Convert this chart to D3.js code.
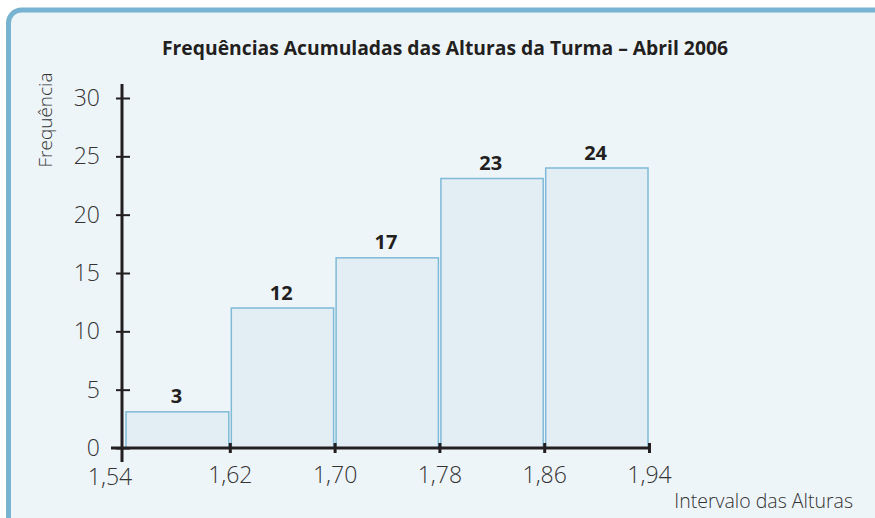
<!DOCTYPE html>
<html>
<head>
<meta charset="utf-8">
<script src="https://cdn.jsdelivr.net/npm/d3@7"></script>
<style>
    body { margin: 0; background: #ffffff; }
    svg { display: block; }
</style>
</head>
<body>
<script>
"use strict";
(function(){

    // bin edges of the height intervals
    const edges = [1.54, 1.62, 1.70, 1.78, 1.86, 1.94]
    // cumulative frequency printed over each bar
    const counts = [3, 12, 17, 23, 24]
    // bar heights as drawn in the original (third bar sits a bit low)
    const barHeights = [3.1, 12, 16.3, 23.1, 24]
    const yTicks = [0, 5, 10, 15, 20, 25, 30]

    const title = "Frequências Acumuladas das Alturas da Turma – Abril 2006"
    const yLabel = "Frequência"
    const xLabel = "Intervalo das Alturas"

    const measurements = {
        width: 875,
        height: 518
    }

    const ink = "#231f20"
    const grey = "#333333"
    const lightFont = "'Open Sans', 'DejaVu Sans', sans-serif"

    const svg = d3.select("body").append("svg")
        .attr("width", measurements.width)
        .attr("height", measurements.height)

    // framed panel, runs off the right and bottom edges
    svg.append("rect")
        .attr("x", 8.5)
        .attr("y", 10)
        .attr("width", 900)
        .attr("height", 600)
        .attr("rx", 13)
        .attr("fill", "#eef5f9")
        .attr("stroke", "#78b4d1")
        .attr("stroke-width", 5)

    const scaleX = d3.scaleLinear()
        .domain([1.54, 1.94])
        .range([125, 649])

    const scaleY = d3.scaleLinear()
        .domain([0, 30])
        .range([448, 98])

    const axisX = 122

    // bars
    const bins = counts.map((c, i) => ({
        x0: edges[i],
        x1: edges[i + 1],
        count: c,
        h: barHeights[i]
    }))

    svg.selectAll(".bar")
        .data(bins)
        .enter()
        .append("rect")
            .attr("class", "bar")
            .attr("x", (d, i) => i === 0 ? scaleX(d.x0) + 1 : scaleX(d.x0) + 1.5)
            .attr("y", d => scaleY(d.h))
            .attr("width", (d, i) => scaleX(d.x1) - scaleX(d.x0) - (i === 0 ? 2 : 2.5))
            .attr("height", d => scaleY(0) - scaleY(d.h))
            .attr("fill", "#e2edf4")
            .attr("stroke", "#7fbad6")
            .attr("stroke-width", 1.5)

    svg.selectAll(".count")
        .data(bins)
        .enter()
        .append("text")
            .attr("class", "count")
            .attr("x", d => (scaleX(d.x0) + scaleX(d.x1)) / 2 - 1)
            .attr("y", d => scaleY(d.h) - 8.5)
            .attr("text-anchor", "middle")
            .attr("font-family", "'Open Sans', sans-serif")
            .attr("font-weight", 700)
            .attr("font-size", 20)
            .attr("fill", ink)
            .text(d => d.count)

    // y axis
    const yAxis = d3.axisLeft(scaleY)
        .tickValues(yTicks)
        .tickSize(6)
        .tickPadding(16)

    svg.append("g")
        .attr("transform", "translate(" + axisX + ",0)")
        .call(yAxis)
        .call(g => g.select(".domain").remove())
        .call(g => g.selectAll(".tick line")
            .attr("x1", -6)
            .attr("x2", 8)
            .attr("stroke", ink)
            .attr("stroke-width", 2))
        .call(g => g.selectAll(".tick text")
            .attr("font-family", lightFont)
            .attr("font-weight", 300)
            .attr("font-size", 23)
            .attr("fill", grey))

    svg.append("line")
        .attr("x1", axisX).attr("x2", axisX)
        .attr("y1", 84).attr("y2", 462)
        .attr("stroke", ink)
        .attr("stroke-width", 3)

    // x axis
    const xAxis = d3.axisBottom(scaleX)
        .tickValues(edges.slice(1))
        .tickSize(5)
        .tickPadding(14)
        .tickFormat(d => d.toFixed(2).replace(".", ","))

    svg.append("g")
        .attr("transform", "translate(0," + scaleY(0) + ")")
        .call(xAxis)
        .call(g => g.select(".domain").remove())
        .call(g => g.selectAll(".tick line")
            .attr("y1", -5)
            .attr("y2", 5)
            .attr("stroke", ink)
            .attr("stroke-width", 3))
        .call(g => g.selectAll(".tick text")
            .attr("font-family", lightFont)
            .attr("font-weight", 300)
            .attr("font-size", 23)
            .attr("fill", grey))

    svg.append("text")
        .attr("x", axisX - 12)
        .attr("y", scaleY(0) + 37)
        .attr("font-family", lightFont)
        .attr("font-weight", 300)
        .attr("font-size", 23)
        .attr("fill", grey)
        .text(edges[0].toFixed(2).replace(".", ","))
        .attr("text-anchor", "middle")

    svg.append("line")
        .attr("x1", 111).attr("x2", scaleX(1.94))
        .attr("y1", scaleY(0)).attr("y2", scaleY(0))
        .attr("stroke", ink)
        .attr("stroke-width", 3)

    // titles
    svg.append("text")
        .attr("x", 445)
        .attr("y", 55)
        .attr("text-anchor", "middle")
        .attr("font-family", "'Open Sans', sans-serif")
        .attr("font-weight", 700)
        .attr("font-size", 20)
        .attr("textLength", 566)
        .attr("lengthAdjust", "spacingAndGlyphs")
        .attr("fill", ink)
        .text(title)

    svg.append("text")
        .attr("transform", "translate(52,120)rotate(-90)")
        .attr("text-anchor", "middle")
        .attr("font-family", lightFont)
        .attr("font-weight", 300)
        .attr("font-size", 19)
        .attr("fill", grey)
        .text(yLabel)

    svg.append("text")
        .attr("x", 853)
        .attr("y", 508)
        .attr("text-anchor", "end")
        .attr("font-family", lightFont)
        .attr("font-weight", 300)
        .attr("font-size", 19.5)
        .attr("fill", grey)
        .text(xLabel)
})()
</script>
</body>
</html>
